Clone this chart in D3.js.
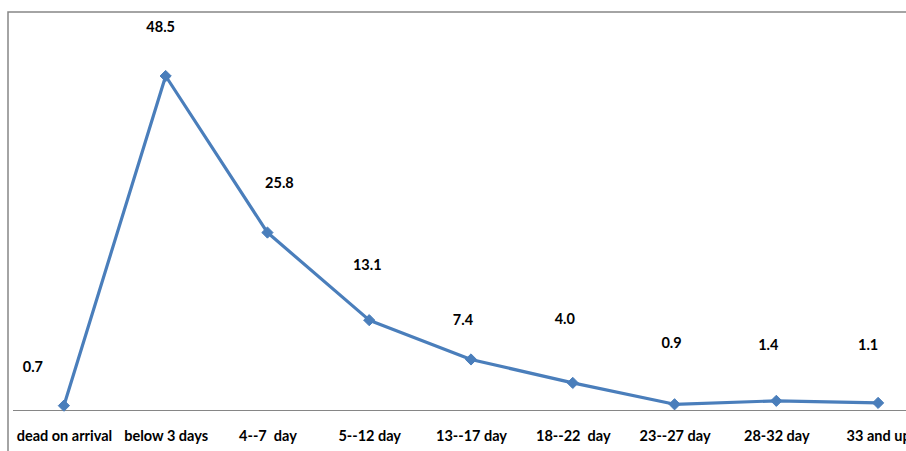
<!DOCTYPE html>
<html>
<head>
<meta charset="utf-8">
<script src="https://cdn.jsdelivr.net/npm/d3@7"></script>
<style>
  html, body { margin: 0; padding: 0; background: #fff; }
  svg { display: block; }
  text { font-family: Lato, "Open Sans", sans-serif; font-weight: bold; fill: #000; }
</style>
</head>
<body>
<svg id="chart" width="906" height="451"></svg>
<script>
// Stay length categories and the share (%) falling in each
const categories = [
  "dead on arrival", "below 3 days", "4--7  day", "5--12 day", "13--17 day",
  "18--22  day", "23--27 day", "28-32 day", "33 and up"
];
const values = [0.7, 48.5, 25.8, 13.1, 7.4, 4.0, 0.9, 1.4, 1.1];
const valueLabels = ["0.7", "48.5", "25.8", "13.1", "7.4", "4.0", "0.9", "1.4", "1.1"];

// Hand-placed data label nudges [dx, dy] relative to each point
const labelNudge = [
  [-31, -39], [-5, -49], [12, -50], [-2, -55], [-8, -40],
  [-8, -64], [-3, -61], [-8, -56], [-10, -58]
];

const svg = d3.select("#chart");

// Chart frame (open on the right and bottom, running past the canvas)
svg.append("rect")
  .attr("x", 8).attr("y", 12)
  .attr("width", 1000).attr("height", 1000)
  .attr("fill", "none")
  .attr("stroke", "#868686")
  .attr("stroke-width", 1.5);

const x = d3.scalePoint()
  .domain(categories)
  .range([13, 929])
  .padding(0.5);

const y = d3.scaleLinear()
  .domain([0, 48.5])
  .range([410.5, 76]);

// Category axis
const xAxis = d3.axisBottom(x).tickSize(0).tickPadding(0);
const gx = svg.append("g")
  .attr("transform", `translate(0,${y(0)})`)
  .call(xAxis);
gx.select(".domain")
  .attr("d", `M13,0H929`)
  .attr("stroke", "#868686")
  .attr("stroke-width", 1);
gx.selectAll(".tick text")
  .attr("y", 25)
  .attr("dy", "0.35em")
  .style("font-size", "14.5px")
  .style("font-family", "Lato, sans-serif")
  .style("font-weight", "bold")
  .attr("fill", "#000")
  .style("white-space", "pre")
  .attr("xml:space", "preserve");

// Series line
const line = d3.line()
  .x((d, i) => x(categories[i]))
  .y(d => y(d));

svg.append("path")
  .datum(values)
  .attr("d", line)
  .attr("fill", "none")
  .attr("stroke", "#4A7EBB")
  .attr("stroke-width", 3.2)
  .attr("stroke-linejoin", "round");

// Diamond markers
const diamond = d3.symbol().type(d3.symbolDiamond2).size(80);
svg.selectAll("path.marker")
  .data(values)
  .join("path")
  .attr("class", "marker")
  .attr("d", diamond)
  .attr("transform", (d, i) => `translate(${x(categories[i])},${y(d)})`)
  .attr("fill", "#4A7EBB")
  .attr("stroke", "#4A7EBB")
  .attr("stroke-width", 1);

// Data labels
svg.selectAll("text.value")
  .data(values)
  .join("text")
  .attr("class", "value")
  .attr("x", (d, i) => x(categories[i]) + labelNudge[i][0])
  .attr("y", (d, i) => y(d) + labelNudge[i][1])
  .attr("dy", "0.35em")
  .attr("text-anchor", "middle")
  .style("font-size", "14.5px")
  .text((d, i) => valueLabels[i]);
</script>
</body>
</html>
